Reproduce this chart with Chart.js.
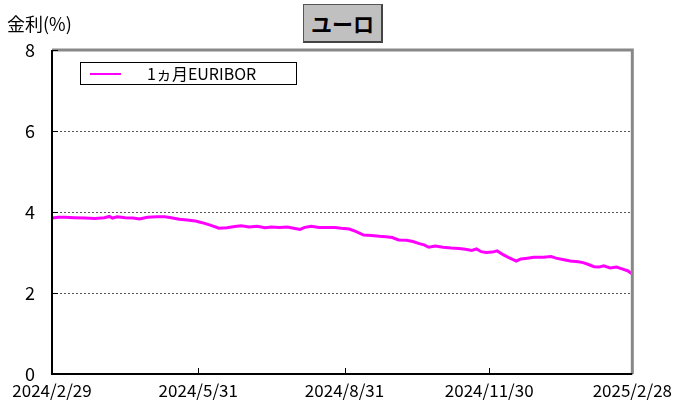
<!DOCTYPE html>
<html>
<head>
<meta charset="utf-8">
<script src="https://cdn.jsdelivr.net/npm/chart.js@4.4.0/dist/chart.umd.min.js"></script>
<style>
  body { margin: 0; background: #fff; }
  #wrap { position: relative; width: 678px; height: 403px; font-family: "Noto Sans CJK JP", sans-serif; }
  #ylab { position: absolute; left: 7px; top: 10px; font-size: 18px; color: #000; }
  #ttl { position: absolute; left: 303px; top: 4px; width: 77px; height: 36px; background: #c0c0c0;
         border: 1px solid #555; border-right: 2px solid #444; border-bottom: 2px solid #444;
         font-size: 21px; font-weight: bold; text-align: center; line-height: 36px; }
  #leg { position: absolute; left: 80px; top: 62px; width: 215px; height: 21px; border: 1px solid #000; background: #fff; }
  #leg .ln { position: absolute; left: 9px; top: 10px; width: 31px; height: 2px; background: #ff00ff; }
  #leg .tx { position: absolute; left: 66px; top: -1px; font-size: 16px; line-height: 22px; }
</style>
</head>
<body>
<div id="wrap">
  <canvas id="chart" width="678" height="403"></canvas>
  <div id="ylab">金利(%)</div>
  <div id="ttl">ユーロ</div>
  <div id="leg"><div class="ln"></div><div class="tx">1ヵ月EURIBOR</div></div>
</div>
<script>
// days since 2024/2/29
let days = [0,4,8,14,21,27,33,36,38,41,46,51,55,60,66,71,75,80,85,90,92,96,100,105,110,115,119,124,129,134,
  138,143,148,152,156,159,163,168,173,178,182,187,191,196,201,206,210,214,218,223,227,231,234,237,241,246,251,256,
  260,264,267,270,273,277,280,284,287,292,295,299,303,309,314,317,322,326,331,334,337,341,344,347,351,355,359,362,365];
let euribor = [3.85,3.87,3.87,3.86,3.85,3.84,3.86,3.89,3.85,3.88,3.86,3.85,3.83,3.87,3.88,3.88,3.86,3.82,3.80,3.78,
  3.76,3.72,3.67,3.60,3.61,3.64,3.66,3.63,3.65,3.61,3.63,3.62,3.63,3.60,3.57,3.62,3.65,3.62,3.62,3.62,3.60,3.58,
  3.52,3.43,3.42,3.40,3.39,3.37,3.31,3.30,3.27,3.22,3.19,3.13,3.16,3.13,3.11,3.10,3.08,3.05,3.09,3.02,3.00,3.01,
  3.04,2.94,2.88,2.79,2.84,2.86,2.88,2.88,2.90,2.86,2.82,2.79,2.77,2.75,2.71,2.65,2.64,2.67,2.62,2.64,2.59,2.55,2.47];
let tickDays = [0, 92, 184, 275, 365];
let tickLabels = ['2024/2/29', '2024/5/31', '2024/8/31', '2024/11/30', '2025/2/28'];
let yTicks = [0, 2, 4, 6, 8];

let pts = days.map(function(d, i){ return {x: d, y: euribor[i]}; });

const framePlugin = {
  id: 'frame',
  afterDraw(chart) {
    const c = chart.ctx, a = chart.chartArea;
    const xs = chart.scales.x, ys = chart.scales.y;
    c.save();
    c.strokeStyle = '#888';
    c.lineWidth = 3;
    c.beginPath();
    c.moveTo(a.left, a.top); c.lineTo(a.right, a.top); c.lineTo(a.right, a.bottom);
    c.stroke();
    c.strokeStyle = '#000';
    c.lineWidth = 2;
    c.beginPath();
    c.moveTo(a.left, a.top); c.lineTo(a.left, a.bottom); c.lineTo(a.right, a.bottom);
    c.stroke();
    c.lineWidth = 1;
    c.beginPath();
    yTicks.forEach(function(v){
      let y = Math.round(ys.getPixelForValue(v)) + 0.5;
      c.moveTo(a.left, y); c.lineTo(a.left + 6, y);
    });
    tickDays.slice(1, -1).forEach(function(v){
      let x = Math.round(xs.getPixelForValue(v)) + 0.5;
      c.moveTo(x, a.bottom); c.lineTo(x, a.bottom - 6);
    });
    c.stroke();
    c.restore();
  }
};

new Chart(document.getElementById('chart'), {
  type: 'line',
  data: {
    datasets: [{
      label: '1ヵ月EURIBOR',
      data: pts,
      borderColor: '#ff00ff',
      borderWidth: 3,
      pointRadius: 0,
      tension: 0
    }]
  },
  options: {
    responsive: false,
    animation: false,
    layout: { padding: { left: 0, right: 44, top: 50, bottom: 0 } },
    plugins: { legend: { display: false }, tooltip: { enabled: false } },
    scales: {
      x: {
        type: 'linear',
        min: 0, max: 365,
        afterBuildTicks: function(s){ s.ticks = tickDays.map(function(v){ return {value: v}; }); },
        afterFit: function(s){ s.height = 29; },
        grid: { display: false, drawTicks: false },
        border: { display: false },
        ticks: {
          padding: 6,
          autoSkip: false,
          maxRotation: 0,
          color: '#000',
          font: { family: '"Noto Sans CJK JP"', size: 17 },
          callback: function(v){ let i = tickDays.indexOf(v); return i >= 0 ? tickLabels[i] : ''; }
        }
      },
      y: {
        min: 0, max: 8,
        afterBuildTicks: function(s){ s.ticks = yTicks.map(function(v){ return {value: v}; }); },
        afterFit: function(s){ s.width = 52; },
        grid: {
          drawTicks: false,
          color: function(ctx){ return (ctx.tick.value === 0 || ctx.tick.value === 8) ? 'rgba(0,0,0,0)' : '#555'; },
          lineWidth: 1
        },
        border: { display: false, dash: [2, 2] },
        ticks: {
          padding: 17,
          color: '#000',
          font: { family: '"Noto Sans CJK JP"', size: 18 }
        }
      }
    }
  },
  plugins: [framePlugin]
});
</script>
</body>
</html>
